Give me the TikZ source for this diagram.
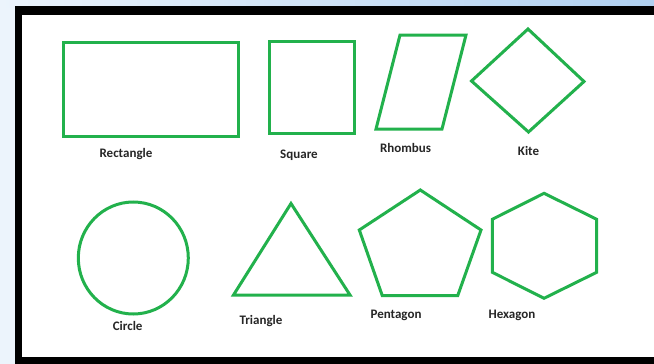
\documentclass[tikz,border=0pt]{standalone}
\usepackage{fontspec}
\setmainfont{Carlito}
\definecolor{shapegreen}{RGB}{34,177,76}
\definecolor{bgblue}{RGB}{236,244,252}
\definecolor{topblue}{RGB}{176,208,240}
\tikzset{
  shape line/.style={draw=shapegreen, line width=3pt, line join=miter},
  shape label/.style={font=\fontsize{13}{15}\selectfont\bfseries, anchor=base, inner sep=0pt, text=black!85}
}
\begin{document}
\begin{tikzpicture}[x=1pt,y=-1pt]
\useasboundingbox (0,0) rectangle (654,364);
\begin{scope}
\clip (0,0) rectangle (654,364);
% background
\fill[bgblue] (0,0) rectangle (654,364);
\shade[left color=bgblue, right color=topblue] (0,0) rectangle (654,7);
% frame
\fill[black] (15,6) rectangle (670,375);
\fill[white] (22,15) rectangle (670,357);
% shapes
\draw[shape line] (63,42) rectangle (238,136);
\draw[shape line] (269,41) rectangle (354,133);
\draw[shape line] (400,35) -- (466,35) -- (442,129) -- (376,129) -- cycle;
\draw[shape line] (528,29) -- (584,81.5) -- (528.5,132) -- (471.5,81) -- cycle;
\draw[shape line] (133.3,258) circle[x radius=55, y radius=56];
\draw[shape line] (291,203.5) -- (350,295) -- (233.5,295) -- cycle;
\draw[shape line] (420.3,190) -- (481,230) -- (457.7,295.7) -- (382.3,295.7) -- (359.3,230) -- cycle;
\draw[shape line] (544,193.3) -- (596.7,219.3) -- (596.7,272.3) -- (544,298.3) -- (492.3,272.3) -- (492.3,219.3) -- cycle;
% labels
\node[shape label] (lrect) at (126,157) {Rectangle};
\node[shape label] (lsq) at (299,158.3) {Square};
\node[shape label] (lrh) at (405.5,152.7) {Rhombus};
\node[shape label] (lkite) at (528.5,155.7) {Kite};
\node[shape label] (lcirc) at (127.7,330.7) {Circle};
\node[shape label] (ltri) at (261,324) {Triangle};
\node[shape label] (lpent) at (396,318.3) {Pentagon};
\node[shape label] (lhex) at (512,318.3) {Hexagon};
\end{scope}
\end{tikzpicture}
\end{document}
